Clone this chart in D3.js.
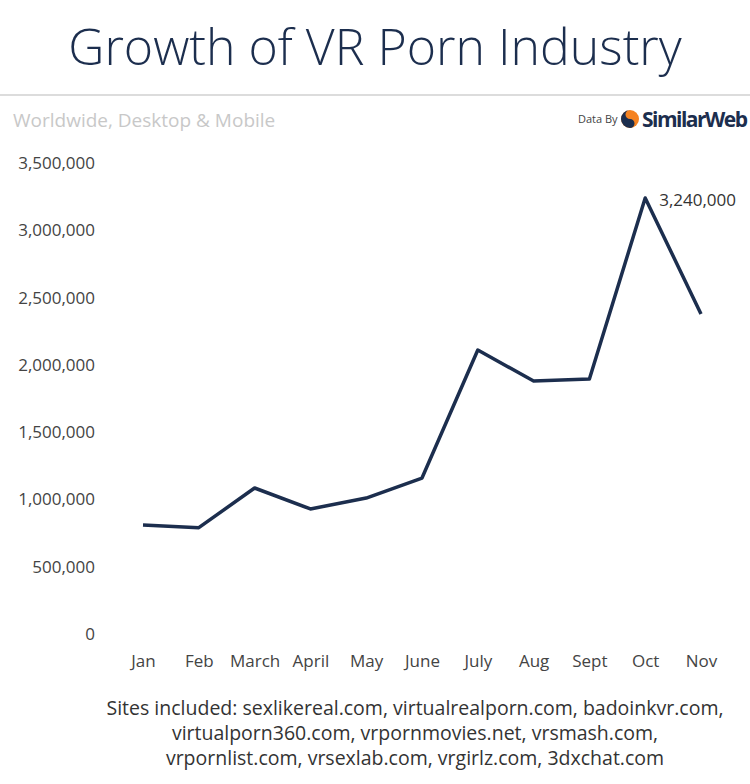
<!DOCTYPE html>
<html><head><meta charset="utf-8">
<script src="https://cdn.jsdelivr.net/npm/d3@7"></script>
<style>body{margin:0;background:#fff;font-family:"Open Sans",sans-serif}</style>
</head><body>
<svg id="chart" width="750" height="784"></svg>
<script>
var months = ["Jan","Feb","March","April","May","June","July","Aug","Sept","Oct","Nov"];
var visits = [810000,790000,1085000,929000,1010000,1159000,2110000,1880000,1895000,3240000,2378000];
var yTicks = [0,500000,1000000,1500000,2000000,2500000,3000000,3500000];
var footer = ["Sites included: sexlikereal.com, virtualrealporn.com, badoinkvr.com,",
              "virtualporn360.com, vrpornmovies.net, vrsmash.com,",
              "vrpornlist.com, vrsexlab.com, vrgirlz.com, 3dxchat.com"];

var svg = d3.select("#chart");
var navy = "#1c2e4e";

svg.append("text").attr("x",375).attr("y",65).attr("text-anchor","middle")
   .style("font-size","50px").style("font-weight",300).attr("fill",navy)
   .text("Growth of VR Porn Industry");
svg.append("line").attr("x1",0).attr("x2",750).attr("y1",95).attr("y2",95)
   .attr("stroke","#d0d0d0").attr("stroke-width",1.5);
svg.append("text").attr("x",13).attr("y",127).style("font-size",19)
   .attr("fill","#c8c8c8").text("Worldwide, Desktop & Mobile");

//logo
svg.append("text").attr("x",578).attr("y",123).style("font-size","11px").attr("fill","#444").text("Data By");
svg.append("circle").attr("cx",630).attr("cy",119).attr("r",9).attr("fill","#f58220");
svg.append("path").attr("d","M630,110 A9,9 0 0 0 630,128 A4.5,4.5 0 0 0 630,119 A4.5,4.5 0 0 1 630,110Z").attr("fill",navy);
svg.append("text").attr("x",642).attr("y",127).style("font-size","21px").style("font-weight",700)
   .attr("fill",navy).attr("textLength",106).text("SimilarWeb");

var x = d3.scalePoint().domain(months).range([143,701]);
var y = d3.scaleLinear().domain([0,3500000]).range([634,163]);

var yAxis = svg.append("g").attr("transform","translate(98,0)")
   .call(d3.axisLeft(y).tickValues(yTicks).tickSize(0).tickFormat(d3.format(",")));
yAxis.select(".domain").remove();
yAxis.selectAll("text").style("font-family","Open Sans").style("font-size","17px").attr("fill","#444");

var xAxis = svg.append("g").attr("transform","translate(0,652)")
   .call(d3.axisBottom(x).tickSize(0));
xAxis.select(".domain").remove();
xAxis.selectAll("text").style("font-family","Open Sans").style("font-size","17px").attr("fill","#444");

svg.append("path").datum(visits)
   .attr("d", d3.line().x(function(d,i){return x(months[i]);}).y(function(d){return y(d);}))
   .attr("fill","none").attr("stroke",navy).attr("stroke-width",3.5).attr("stroke-linejoin","round");

svg.append("text").attr("x",x("Oct")+14).attr("y",y(3240000)+8)
   .style("font-size","17px").attr("fill","#333").text(d3.format(",")(3240000));

svg.selectAll(".foot").data(footer).enter().append("text")
   .attr("x",415).attr("y",function(d,i){return 715+i*25;}).attr("text-anchor","middle")
   .style("font-size","19.5px").attr("fill","#333").text(function(d){return d;});
</script>
</body></html>
